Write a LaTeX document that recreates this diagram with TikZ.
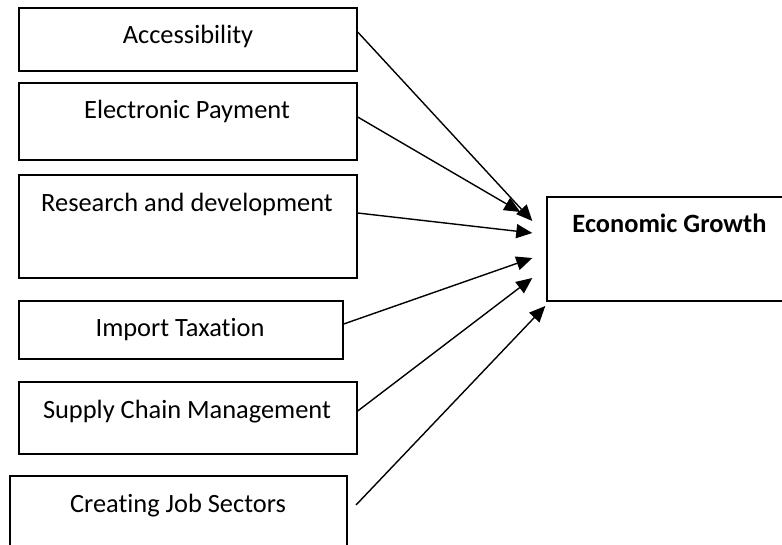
\documentclass[tikz,border=0pt]{standalone}
\usepackage{fontspec}
\setmainfont{Carlito}[Ligatures=CommonOff]
\usetikzlibrary{arrows.meta}
\tikzset{
  box/.style={draw=black, line width=1.4pt, fill=none, inner sep=0pt},
  txt/.style={anchor=base, inner sep=0pt, font=\fontsize{26.4}{30}\selectfont},
  conn/.style={line width=1.4pt, -{Triangle[length=16pt,width=14pt]}}
}
\begin{document}
\begin{tikzpicture}[x=1pt, y=-1pt]
\useasboundingbox (0,0) rectangle (782,545);
\clip (0,0) rectangle (782,545);
\fill[white] (0,0) rectangle (782,545);
% boxes
\node[box, minimum width=338pt, minimum height=63pt] (b1) at (188,39.5) {};
\node[box, minimum width=338pt, minimum height=77pt] (b2) at (188,121.5) {};
\node[box, minimum width=338pt, minimum height=103pt] (b3) at (188,226.5) {};
\node[box, minimum width=324pt, minimum height=58pt] (b4) at (181,330) {};
\node[box, minimum width=338pt, minimum height=72pt] (b5) at (188,418) {};
\node[box, minimum width=337pt, minimum height=84pt] (b6) at (178.5,518) {};
\node[box, minimum width=245pt, minimum height=104pt] (eg) at (669.5,249) {};
% texts
\node[txt] (t1) at (188,44) {Accessibility};
\node[txt] (t2) at (187,119) {Electronic Payment};
\node[txt] (t3) at (187,212) {Research and development};
\node[txt] (t4) at (180,337) {Import Taxation};
\node[txt] (t5) at (187,418) {Supply Chain Management};
\node[txt] (t6) at (178,512) {Creating Job Sectors};
\node[txt, font=\fontsize{26.4}{30}\selectfont\bfseries] (teg) at (669.5,233) {Economic Growth};
% connectors
\coordinate (s6) at (356,505);
\draw[conn] ([yshift=7.5pt]b1.east) -- ([xshift=-14pt,yshift=28pt]eg.west);
\draw[conn] ([yshift=4.5pt]b2.east) -- ([xshift=-26pt,yshift=37pt]eg.west);
\draw[conn] ([yshift=13.5pt]b3.east) -- ([xshift=-14pt,yshift=16pt]eg.west);
\draw[conn] ([yshift=6pt]b4.east) -- ([xshift=-14pt,yshift=-9pt]eg.west);
\draw[conn] ([yshift=7pt]b5.east) -- ([xshift=-14pt,yshift=-29pt]eg.west);
\draw[conn] (s6) -- ([xshift=-1pt,yshift=-57pt]eg.west);
\end{tikzpicture}
\end{document}
